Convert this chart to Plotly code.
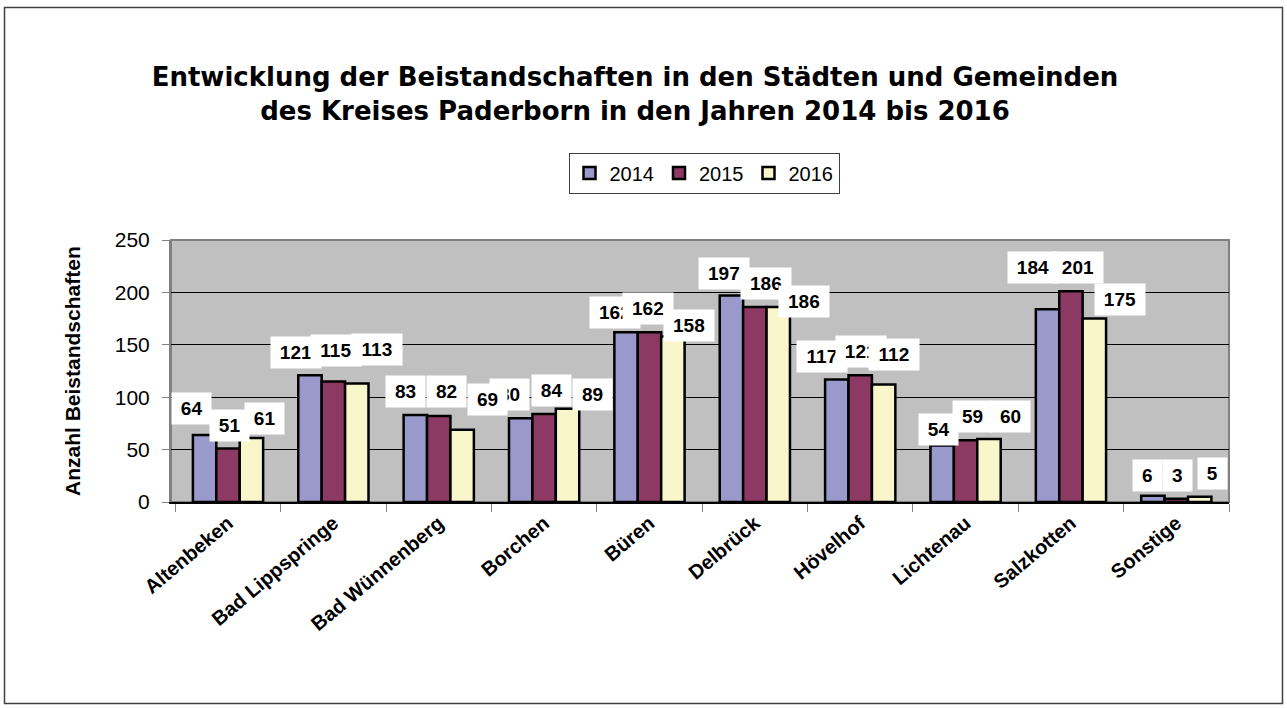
import plotly.graph_objects as go

# Gemeinden / Städte
categories = ["Altenbeken", "Bad Lippspringe", "Bad Wünnenberg", "Borchen", "Büren",
              "Delbrück", "Hövelhof", "Lichtenau", "Salzkotten", "Sonstige"]
years = ["2014", "2015", "2016"]
values_2014 = [64, 121, 83, 80, 162, 197, 117, 54, 184, 6]
values_2015 = [51, 115, 82, 84, 162, 186, 121, 59, 201, 3]
values_2016 = [61, 113, 69, 89, 158, 186, 112, 60, 175, 5]
y_ticks = [0, 50, 100, 150, 200, 250]

series = [values_2014, values_2015, values_2016]
colors = ["#9999CC", "#8C3A63", "#FAF6CC"]

# label placement relative to each bar's centre / top (pixels)
label_dx = [
    [-13, -14, -10, -11, -11, -7, -15, -4, -14, -5],
    [1, 3, 8, 7, -1, 11, 1, 7, 7, 1],
    [13, 20, 25, 25, 16, 26, 10, 21, 26, 13],
]
label_dy = [
    [26, 23, 24, 24, 20, 22, 23, 16, 42, 20],
    [23, 31, 25, 23, 24, 24, 24, 24, 24, 23],
    [20, 34, 30, 14, 11, 6, 30, 23, 19, 23],
]

W, H = 1287, 708
ML, MR, MT, MB = 171, 58, 240, 206
BARGAP = 1 / 3
plot_w = W - ML - MR
plot_h = H - MT - MB
cat_w = plot_w / len(categories)
bar_w = cat_w * (1 - BARGAP) / 3

FONT = "Liberation Sans, Arial, sans-serif"

fig = go.Figure()
for name, vals, col in zip(years, series, colors):
    fig.add_trace(go.Bar(
        x=categories, y=vals, name=name,
        marker=dict(color=col, line=dict(color="black", width=2.5)),
    ))

annotations = []
for j, vals in enumerate(series):
    for i, v in enumerate(vals):
        n = len(str(v))
        annotations.append(dict(
            x=categories[i], y=v, xref="x", yref="y",
            text=f"<b>{v}</b>", showarrow=False,
            xshift=(j - 1) * bar_w + label_dx[j][i], yshift=label_dy[j][i],
            xanchor="center", yanchor="middle",
            font=dict(family=FONT, size=19, color="black"),
            bgcolor="white", borderpad=5, width=8 + 10.6 * n, align="center",
        ))

# y-axis title
annotations.append(dict(
    x=(72 - ML) / plot_w, y=0.5, xref="paper", yref="paper",
    text="<b>Anzahl Beistandschaften</b>", textangle=-90, showarrow=False,
    font=dict(family=FONT, size=21, color="black"),
    xanchor="center", yanchor="middle",
))

shapes = [
    # plot frame
    dict(type="rect", xref="paper", yref="paper", x0=0, x1=1, y0=0, y1=1,
         line=dict(color="#808080", width=2), layer="below"),
    # outer chart border
    dict(type="rect", xref="paper", yref="paper",
         x0=(4.5 - ML) / plot_w, x1=(1282.5 - ML) / plot_w,
         y0=(H - MB - 703.5) / plot_h, y1=(H - MB - 7.5) / plot_h,
         line=dict(color="#404040", width=1.5)),
]

fig.update_layout(
    width=W, height=H,
    margin=dict(l=ML, r=MR, t=MT, b=MB),
    paper_bgcolor="white", plot_bgcolor="#C0C0C0",
    barmode="group", bargap=BARGAP, bargroupgap=0,
    title=dict(
        text="<b>Entwicklung der Beistandschaften in den Städten und Gemeinden<br>"
             "des Kreises Paderborn in den Jahren 2014 bis 2016</b>",
        x=635 / W, xanchor="center", y=1 - 86 / H, yanchor="middle",
        yref="container", xref="container",
        font=dict(family="DejaVu Sans, sans-serif", size=26, color="black"),
    ),
    legend=dict(
        orientation="h", x=(704 - ML) / plot_w, xanchor="center",
        y=(H - MB - 173) / plot_h, yanchor="middle",
        bordercolor="#404040", borderwidth=1, bgcolor="white",
        font=dict(family=FONT, size=20, color="black"),
        itemwidth=30, tracegroupgap=0,
    ),
    xaxis=dict(
        tickmode="array", tickvals=categories,
        ticktext=[f"<b>{c}</b>" for c in categories],
        tickangle=-40, tickfont=dict(family=FONT, size=20, color="black"),
        ticks="outside", tickson="boundaries", ticklen=8, tickcolor="#808080",
        showline=True, linecolor="black", linewidth=1.5, showgrid=False,
    ),
    yaxis=dict(
        range=[0, 250], tickvals=y_ticks,
        tickfont=dict(family=FONT, size=21, color="black"),
        ticks="outside", ticklen=7, tickcolor="#808080", ticklabelstandoff=8,
        showline=True, linecolor="#808080", linewidth=2,
        showgrid=True, gridcolor="black", gridwidth=1, zeroline=False,
    ),
    annotations=annotations,
    shapes=shapes,
    font=dict(family=FONT),
)

fig.write_html("out.html")
